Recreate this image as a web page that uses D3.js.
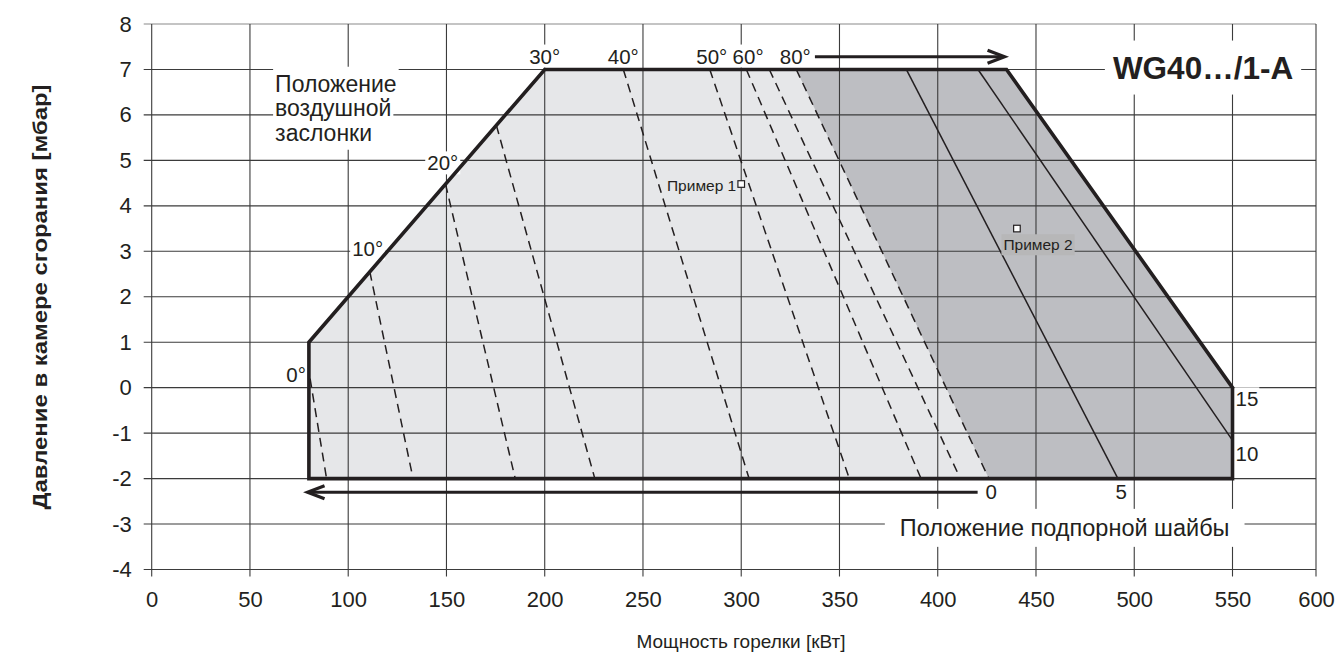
<!DOCTYPE html>
<html><head><meta charset="utf-8">
<script src="https://cdn.jsdelivr.net/npm/d3@7"></script>
<style>
body{margin:0;background:#fff;}
svg{display:block;font-family:"Liberation Sans",Arial,Helvetica,sans-serif;}
</style></head><body>
<svg id="chart" width="1341" height="653"></svg>
<script>
// ---------------- data ----------------
const xTicks = [0,50,100,150,200,250,300,350,400,450,500,550,600];
const yTicks = [-4,-3,-2,-1,0,1,2,3,4,5,6,7,8];
const xTitle = "Мощность горелки [кВт]";
const yTitle = "Давление в камере сгорания [мбар]";
const chartTitle = "WG40…/1-A";
const damperTitle = ["Положение","воздушной","заслонки"];
const discTitle = "Положение подпорной шайбы";
// working field (kW, mbar)
const envelope = [[80,-2],[80,1],[200,7],[435,7],[550,0],[550,-2]];
// darker zone: brake disc range
const discZone = [[328,7],[435,7],[550,0],[550,-2],[426,-2]];
// air damper lines (dashed): start, end
const damperLines = [
  [[80.6,0.2],[89,-2]],
  [[111,2.55],[133,-2]],
  [[149.5,4.48],[185,-2]],
  [[175.4,5.77],[225.5,-2]],
  [[240,7],[304,-2]],
  [[284,7],[355,-2]],
  [[302.6,7],[391.5,-2]],
  [[314.3,7],[411.5,-2]],
  [[328,7],[426,-2]]
];
// damper angle labels: text, anchor point (kW, mbar), alignment
const damperLabels = [
  ["0°",[78.5,0.12],"end"],
  ["10°",[117.8,2.89],"end"],
  ["20°",[156,4.78],"end"],
  ["30°",[200,7.13],"middle"],
  ["40°",[240,7.13],"middle"],
  ["50°",[285,7.13],"middle"],
  ["60°",[303.5,7.13],"middle"],
  ["80°",[327.5,7.13],"middle"]
];
// brake disc position lines (solid)
const discLines = [
  [[384,7],[491.7,-2]],
  [[420.5,7],[550,-1.16]]
];
const discLabels = [
  ["0",[427.2,-2.44],"middle"],
  ["5",[493.3,-2.44],"middle"],
  ["10",[551.8,-1.62],"start"],
  ["15",[551.8,-0.41],"start"]
];
const arrowTop = [[337.5,7.28],[434,7.28]];
const arrowBottom = [[420.3,-2.3],[79.3,-2.3]];
const examples = [
  {name:"Пример 1", pt:[300,4.48]},
  {name:"Пример 2", pt:[440.3,3.5]}
];

// ---------------- drawing ----------------
const svg = d3.select("#chart");
const x = d3.scaleLinear().domain([0,550,600]).range([151.7,1232.5,1316]);
const y = d3.scaleLinear().domain([-4,8]).range([569.5,24]);
const ink = "#231f20";
const line = d3.line().x(d=>x(d[0])).y(d=>y(d[1]));

const gFill = svg.append("g"), gGrid = svg.append("g"), gLines = svg.append("g"),
      gBg = svg.append("g"), gBorder = svg.append("g"), gText = svg.append("g");

gFill.append("path").attr("d", line(envelope)+"Z").attr("fill","#e6e7e9");
gFill.append("path").attr("d", line(discZone)+"Z").attr("fill","#bdbec2");

// grid
gGrid.selectAll("line.h").data(yTicks).join("line").attr("class","h")
  .attr("x1", x(0)-8).attr("x2", x(600)).attr("y1", d=>y(d)).attr("y2", d=>y(d))
  .attr("stroke", d=> d===8 ? "#8a8a8a" : "#3b3b3b").attr("stroke-width",1.1);
gGrid.selectAll("line.v").data(xTicks).join("line").attr("class","v")
  .attr("x1", d=>x(d)).attr("x2", d=>x(d)).attr("y1", y(8)).attr("y2", y(-4)+7)
  .attr("stroke","#3b3b3b").attr("stroke-width",1.1);

// axes labels via d3 axes
const fmt = d => String(d);
const ax = svg.append("g").attr("transform",`translate(0,${y(-4)})`)
  .call(d3.axisBottom(x).tickValues(xTicks).tickSize(0).tickPadding(22).tickFormat(fmt));
ax.select(".domain").remove();
ax.selectAll("text").attr("font-size",22).attr("fill",ink).attr("font-family","Liberation Sans, Arial, sans-serif");
const ay = svg.append("g").attr("transform",`translate(${x(0)},0)`)
  .call(d3.axisLeft(y).tickValues(yTicks).tickSize(0).tickPadding(20).tickFormat(fmt));
ay.select(".domain").remove();
ay.selectAll("text").attr("font-size",22).attr("fill",ink).attr("font-family","Liberation Sans, Arial, sans-serif");

// axis titles
svg.append("text").attr("x", 741).attr("y", 648).attr("text-anchor","middle")
  .attr("font-size",19).attr("fill",ink).text(xTitle);
svg.append("text").attr("transform",`translate(47,297) rotate(-90)`).attr("text-anchor","middle")
  .attr("font-size",20).attr("font-weight","bold").attr("fill",ink)
  .attr("textLength",425).attr("lengthAdjust","spacingAndGlyphs").text(yTitle);

// damper dashed lines
gLines.selectAll("path.d").data(damperLines).join("path").attr("class","d")
  .attr("d", d=>line(d)).attr("fill","none").attr("stroke",ink)
  .attr("stroke-width",1.5).attr("stroke-dasharray","9,6");
// disc solid lines
gLines.selectAll("path.s").data(discLines).join("path").attr("class","s")
  .attr("d", d=>line(d)).attr("fill","none").attr("stroke",ink).attr("stroke-width",1.5);

// border
gBorder.append("path").attr("d", line(envelope)+"Z").attr("fill","none")
  .attr("stroke",ink).attr("stroke-width",3.6).attr("stroke-linejoin","miter");

// helper: label with background
function label(txt, px, py, anchor, size, opts={}){
  const t = gText.append("text").attr("x",px).attr("y",py).attr("text-anchor",anchor)
    .attr("font-size",size).attr("fill",ink).attr("font-weight",opts.weight||"normal").text(txt);
  if(opts.bg){
    const b = t.node().getBBox();
    const px2 = opts.padX ?? 2, py2 = opts.padY ?? 1;
    gBg.append("rect").attr("x",b.x-px2).attr("y",b.y-py2)
      .attr("width",b.width+2*px2).attr("height",b.height+2*py2).attr("fill",opts.bg);
  }
  return t;
}

damperLabels.forEach(([t,p,a])=> label(t, x(p[0]), y(p[1]), a, 20.5, {bg:"#fff", padX:2, padY:0}));
discLabels.forEach(([t,p,a])=> label(t, x(p[0]), y(p[1]), a, 20.5, {bg:"#fff", padX:1, padY:0}));

// title
label(chartTitle, x(535), y(6.8), "middle", 31.5, {weight:"bold", bg:"#fff", padX:8, padY:9});
// damper title block
damperTitle.forEach((t,i)=> label(t, x(62.8), y(6.51)+i*24.5, "start", 23, {bg:"#fff", padX:2, padY:4}));
// disc title
label(discTitle, x(464.6), y(-3.26), "middle", 23.5, {bg:"#fff", padX:15, padY:6});

// arrows
function arrow(pts){
  const p0=[x(pts[0][0]),y(pts[0][1])], p1=[x(pts[1][0]),y(pts[1][1])];
  const dir = Math.sign(p1[0]-p0[0]);
  gText.append("line").attr("x1",p0[0]).attr("y1",p0[1]).attr("x2",p1[0]-dir*2).attr("y2",p1[1])
    .attr("stroke",ink).attr("stroke-width",3);
  gText.append("path")
    .attr("d",`M${p1[0]-dir*17},${p1[1]-6.5} L${p1[0]},${p1[1]} L${p1[0]-dir*17},${p1[1]+6.5}`)
    .attr("fill","none").attr("stroke",ink).attr("stroke-width",3.2).attr("stroke-linejoin","miter");
}
arrow(arrowTop);
arrow(arrowBottom);

// examples
const e1 = examples[0], e2 = examples[1];
label(e1.name, x(e1.pt[0])-5, y(e1.pt[1])+7, "end", 15.5, {});
label(e2.name, x(e2.pt[0])-13.5, y(e2.pt[1])+21.7, "start", 15.5, {bg:"#b7b7b8", padX:2, padY:2});
gText.selectAll("rect.ex").data(examples).join("rect").attr("class","ex")
  .attr("x", d=>x(d.pt[0])-3.3).attr("y", d=>y(d.pt[1])-3.3).attr("width",6.6).attr("height",6.6)
  .attr("fill","#fff").attr("stroke",ink).attr("stroke-width",1.2);
</script>
</body></html>
